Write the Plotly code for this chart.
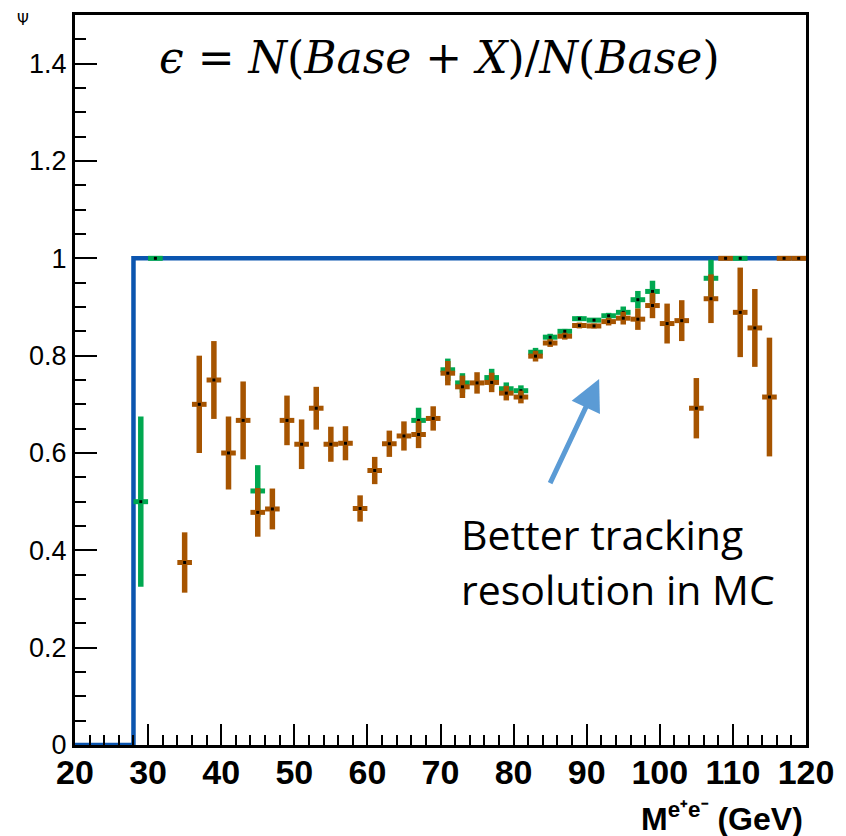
import plotly.graph_objects as go

# ---- data ----
green_x = [29, 31, 45, 67, 71, 73, 77, 79, 81, 83, 85, 87, 89, 91, 93, 95, 97, 99, 107, 111]
green_y = [0.50, 1.0, 0.522, 0.667, 0.771, 0.744, 0.755, 0.732, 0.728, 0.807, 0.838, 0.850,
           0.876, 0.873, 0.882, 0.889, 0.915, 0.932, 0.959, 1.0]
green_err = [0.175, 0.0, 0.053, 0.026, 0.023, 0.020, 0.018, 0.013, 0.011, 0.009, 0.007, 0.005,
             0.005, 0.004, 0.006, 0.012, 0.018, 0.022, 0.038, 0.0]

brown_x = [35, 37, 39, 41, 43, 45, 47, 49, 51, 53, 55, 57, 59, 61, 63, 65, 67, 69, 71, 73, 75,
           77, 79, 81, 83, 85, 87, 89, 91, 93, 95, 97, 99, 101, 103, 105, 107, 109, 111, 113,
           115, 117, 119]
brown_y = [0.375, 0.70, 0.75, 0.60, 0.667, 0.478, 0.485, 0.667, 0.618, 0.692, 0.618, 0.620,
           0.486, 0.564, 0.619, 0.635, 0.638, 0.671, 0.764, 0.736, 0.744, 0.745, 0.723, 0.715,
           0.799, 0.826, 0.840, 0.862, 0.861, 0.870, 0.877, 0.875, 0.903, 0.866, 0.872, 0.692,
           0.917, 1.0, 0.889, 0.857, 0.715, 1.0, 1.0]
brown_err = [0.062, 0.10, 0.08, 0.075, 0.08, 0.05, 0.042, 0.051, 0.051, 0.044, 0.036, 0.035,
             0.027, 0.028, 0.027, 0.030, 0.028, 0.025, 0.025, 0.023, 0.022, 0.020, 0.015, 0.013,
             0.011, 0.008, 0.007, 0.006, 0.005, 0.008, 0.013, 0.022, 0.026, 0.041, 0.042, 0.062,
             0.050, 0.0, 0.092, 0.080, 0.122, 0.0, 0.0]

bin_half = 1.0

base_x = [20, 28, 28, 120]
base_y = [0, 0, 1, 1]

BLUE = "#0b55af"
GREEN = "#00a850"
BROWN = "#a65400"

fig = go.Figure()

fig.add_trace(go.Scatter(x=base_x, y=base_y, mode="lines",
                         line=dict(color=BLUE, width=4.5), hoverinfo="skip"))


def add_series(xs, ys, es, color):
    fig.add_trace(go.Scatter(
        x=xs, y=ys, mode="markers",
        marker=dict(symbol="square", size=3, color="black", line=dict(width=0)),
        error_x=dict(type="constant", value=bin_half, color=color, thickness=5, width=0),
        error_y=dict(type="data", array=es, color=color, thickness=5.5, width=0),
        cliponaxis=False,
    ))


add_series(green_x, green_y, green_err, GREEN)
add_series(brown_x, brown_y, brown_err, BROWN)

fig.update_layout(
    width=846, height=836,
    margin=dict(l=75, r=35, t=12, b=91),
    paper_bgcolor="white", plot_bgcolor="white",
    showlegend=False,
    font=dict(family="Liberation Sans, Arial, sans-serif", color="black"),
)

fig.update_xaxes(
    range=[20, 120], showgrid=False, zeroline=False,
    showline=True, linecolor="black", linewidth=3, mirror=True,
    ticks="inside", ticklen=21, tickwidth=2, tickcolor="black",
    tick0=20, dtick=10, ticklabelstandoff=-5,
    minor=dict(ticks="inside", ticklen=10, tickwidth=2, tickcolor="black", dtick=2, showgrid=False),
    tickfont=dict(family="Liberation Sans, Arial, sans-serif", size=34, color="black", weight="bold"),
)
fig.update_yaxes(
    range=[0, 1.5], showgrid=False, zeroline=False,
    showline=True, linecolor="black", linewidth=3, mirror=True,
    ticks="inside", ticklen=22, tickwidth=2, tickcolor="black",
    tick0=0, dtick=0.2,
    minor=dict(ticks="inside", ticklen=11, tickwidth=2, tickcolor="black", dtick=0.05, showgrid=False),
    tickfont=dict(family="Liberation Sans, Arial, sans-serif", size=27, color="black"),
)


def py(pix):
    return (744.5 - pix) / 732.5


def px(pix):
    return (pix - 75) / 736


fig.add_annotation(
    text="<i>ϵ</i> = <i>N</i>(<i>Base</i> + <i>X</i>)/<i>N</i>(<i>Base</i>)",
    xref="paper", yref="paper", x=px(442), y=py(55),
    xanchor="center", yanchor="middle", showarrow=False,
    font=dict(family="DejaVu Serif, serif", size=44, color="black"),
)

for line_text, ypix in (("Better tracking", 533), ("resolution in MC", 588)):
    fig.add_annotation(
        text=line_text,
        xref="paper", yref="paper", x=px(462), y=py(ypix),
        xanchor="left", yanchor="middle", align="left", showarrow=False,
        font=dict(family="Open Sans, Lato, sans-serif", size=41, color="black"),
    )

fig.add_annotation(
    x=91.7, y=0.752, ax=84.9, ay=0.535, xref="x", yref="y", axref="x", ayref="y",
    text="", showarrow=True, arrowhead=2, arrowsize=1.25, arrowwidth=5, arrowcolor="#5b9bd5",
)

fig.add_annotation(
    text="<b>M<sup>e⁺e⁻</sup> (GeV)</b>",
    xref="paper", yref="paper", x=px(810), y=py(817),
    xanchor="right", yanchor="middle", showarrow=False,
    font=dict(family="Liberation Sans, Arial, sans-serif", size=32, color="black"),
)

fig.add_annotation(
    text="Ψ", xref="paper", yref="paper", x=px(23), y=py(17),
    xanchor="center", yanchor="middle", showarrow=False,
    font=dict(family="DejaVu Sans, sans-serif", size=15, color="black"),
)

fig.write_html("out.html")
